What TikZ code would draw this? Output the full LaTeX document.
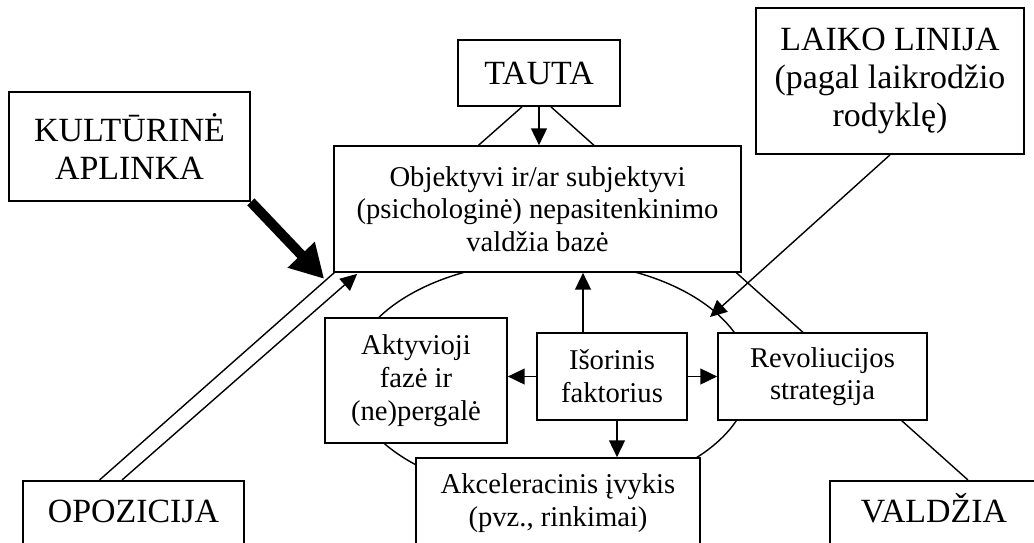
\documentclass[tikz,border=0pt]{standalone}
\usepackage{fontspec}
\setmainfont{Liberation Serif}
\usetikzlibrary{arrows.meta,backgrounds}
\newcommand\bigtxt{\fontsize{19.3}{21.6}\selectfont}
\newcommand\smalltxt{\fontsize{16.3}{18.6}\selectfont}
\begin{document}
\begin{tikzpicture}[x=0.02cm,y=-0.02cm,
  box/.style={draw,line width=1pt,fill=white,inner sep=0pt,align=center},
  big/.style={box,font=\bigtxt},
  small/.style={box,font=\smalltxt},
  ln/.style={line width=0.8pt},
  arr/.style={ln,-{Triangle[length=9.5pt,width=9pt]}}]
\useasboundingbox (0,0) rectangle (1034,542);
\clip (0,0) rectangle (1034,542);
\node[big,minimum width=3.24cm,minimum height=1.32cm] (tauta) at (539,73) {TAUTA};
\node[big,minimum width=4.82cm,minimum height=2.18cm] (kult) at (129.5,146.5) {KULTŪRINĖ\\APLINKA};
\node[big,minimum width=5.36cm,minimum height=2.92cm] (laiko) at (890,81) {LAIKO LINIJA\\(pagal laikrodžio\\rodyklę)};
\node[small,minimum width=8.14cm,minimum height=2.52cm] (baze) at (537.5,209) {Objektyvi ir/ar subjektyvi\\(psichologinė) nepasitenkinimo\\valdžia bazė};
\node[small,minimum width=3.64cm,minimum height=2.5cm] (aktyv) at (416,380.5) {Aktyvioji\\fazė ir\\(ne)pergalė};
\node[small,minimum width=3cm,minimum height=1.74cm] (isor) at (612,376.5) {Išorinis\\faktorius};
\node[small,minimum width=4.18cm,minimum height=1.74cm] (revol) at (822.5,376.5) {Revoliucijos\\strategija};
\node[small,minimum width=5.68cm,minimum height=1.8cm] (akcel) at (558,503) {Akceleracinis įvykis\\(pvz., rinkimai)};
\node[big,anchor=north,minimum width=4.42cm,text height=0.84cm,text depth=0.8cm] (opoz) at (133.5,480) {OPOZICIJA};
\node[big,anchor=north,minimum width=4.16cm,text height=0.84cm,text depth=0.8cm] (valdz) at (934,480) {VALDŽIA};
% ends of the lines
\coordinate (tl) at ([shift={(-17,0)}]tauta.south);
\coordinate (tr) at ([shift={(12,0)}]tauta.south);
\coordinate (ol) at ([shift={(-34,0)}]opoz.north);
\coordinate (vr) at ([shift={(34,0)}]valdz.north);
\coordinate (kulttip) at ([shift={(-9,6)}]baze.south west);
\coordinate (opoztip) at ([shift={(24,1)}]baze.south west);
\coordinate (opozfoot) at ([shift={(-11.5,0)}]opoz.north);
\coordinate (laikotip) at (710,317);
\coordinate (up) at ([shift={(-29,0)}]isor.north);
\coordinate (down) at ([shift={(5,0)}]isor.south);
\begin{scope}[on background layer]
\draw[ln] (550,378) ellipse [x radius=200,y radius=117];
\draw[ln] (tl) -- (ol);
\draw[ln] (tr) -- (vr);
\end{scope}
\draw[arr] (tauta.south) -- (tauta.south |- baze.north);
\draw[line width=5.7pt,-{Triangle[length=19pt,width=20pt]}] (kult.south east) -- (kulttip);
\draw[arr] (opozfoot) -- (opoztip);
\draw[arr] (laiko.south) -- (laikotip);
\draw[arr] (up) -- (up |- baze.south);
\draw[arr] (down) -- (down |- akcel.north);
\draw[arr] (isor.west) -- (isor.west -| aktyv.east);
\draw[arr] (isor.east) -- (isor.east -| revol.west);
\end{tikzpicture}
\end{document}
